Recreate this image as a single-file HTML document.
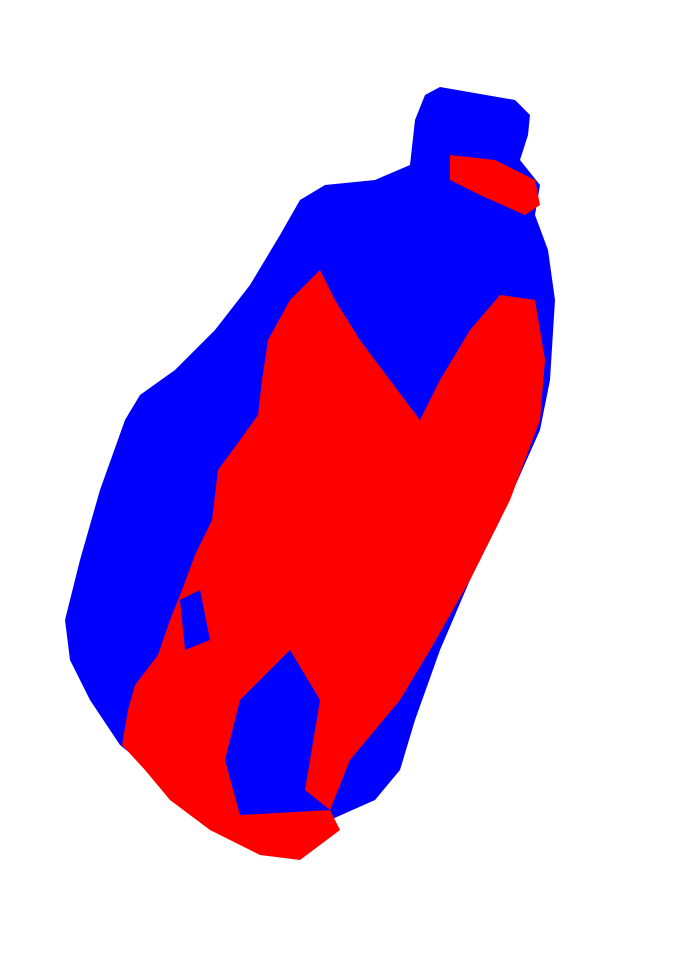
<!DOCTYPE html>
<html>
<head>
<meta charset="utf-8">
<style>
html,body{margin:0;padding:0;background:#fff;width:676px;height:970px;overflow:hidden;}
svg{display:block;}
</style>
</head>
<body>
<svg width="676" height="970" viewBox="0 0 676 970">
  <polygon fill="#0000ff"
    points="425,95 440,87 515,100 530,115 528,135 520,160 540,185 535,215 548,250 555,300 550,380 540,430 500,520 470,580 440,650 415,720 400,770 375,800 330,820 270,830 215,820 175,790 120,745 90,700 70,660 65,620 80,560 100,490 125,420 140,395 175,370 215,330 250,285 280,235 300,200 325,185 375,180 410,165 415,120"/>
  <polygon fill="#ff0000"
    points="320,270 335,300 360,340 390,380 420,420 440,380 470,330 500,295 535,300 545,360 540,420 510,500 470,580 430,650 400,700 350,760 330,810 340,830 300,860 260,855 210,830 170,800 145,770 122,745 128,710 135,685 158,655 170,620 182,590 195,555 212,520 218,470 240,440 258,415 262,380 268,340 290,300"/>
  <polygon fill="#0000ff"
    points="240,700 290,650 320,700 305,790 330,810 240,815 225,760"/>
  <polygon fill="#0000ff"
    points="335,300 380,290 470,285 440,370 420,420 390,380 360,340"/>
  <polygon fill="#0000ff"
    points="180,600 200,590 210,640 185,650"/>
  <polygon fill="#ff0000"
    points="450,155 495,160 535,180 540,205 525,215 480,195 450,180"/>
</svg>
</body>
</html>
